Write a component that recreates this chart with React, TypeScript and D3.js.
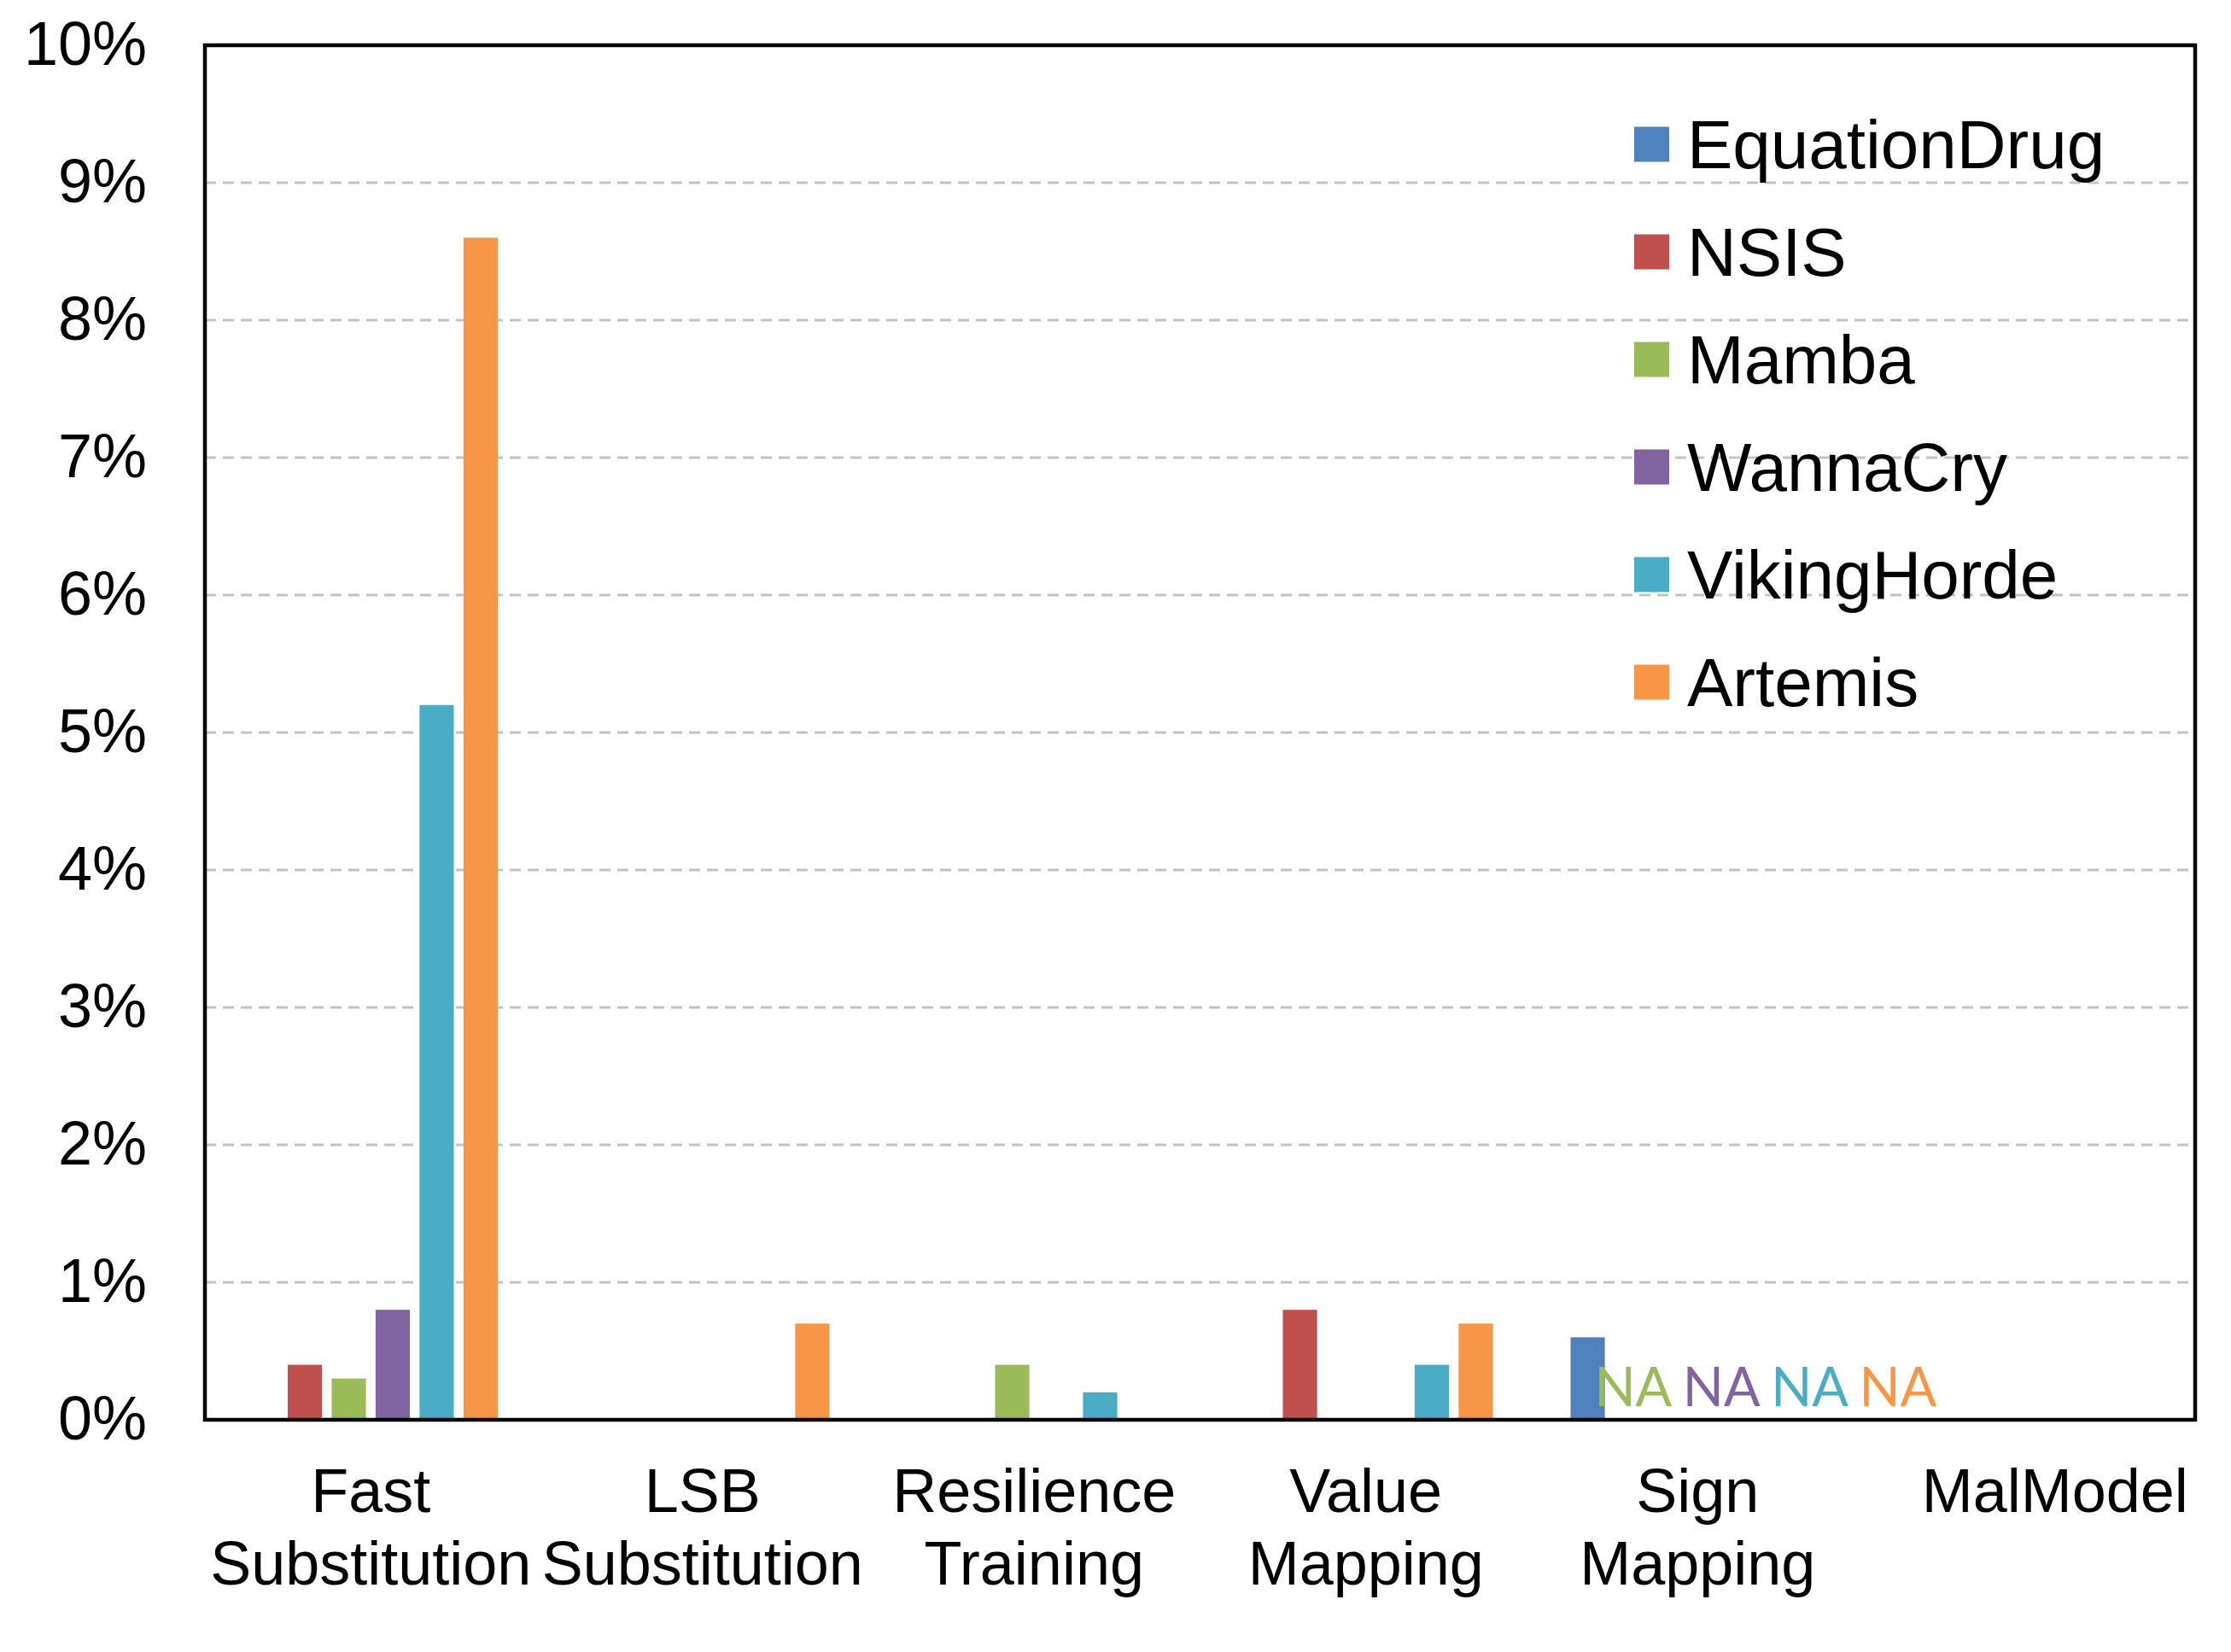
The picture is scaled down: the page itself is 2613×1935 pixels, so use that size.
import React, { useRef, useEffect } from 'react';
import * as d3 from 'd3';

// categories on the x axis (each entry = label lines)
const categories = ['Fast Substitution', 'LSB Substitution', 'Resilience Training', 'Value Mapping', 'Sign Mapping', 'MalModel'];
const categoryLines = [['Fast', 'Substitution'], ['LSB', 'Substitution'], ['Resilience', 'Training'], ['Value', 'Mapping'], ['Sign', 'Mapping'], ['MalModel']];

const seriesNames = ['EquationDrug', 'NSIS', 'Mamba', 'WannaCry', 'VikingHorde', 'Artemis'];
const seriesColors = ['#4F81BD', '#C0504D', '#9BBB59', '#8064A2', '#4BACC6', '#F79646'];

// values in %, null = not available
const equationDrug = [0, 0, 0, 0, 0.6, 0];
const nsis = [0.4, 0, 0, 0.8, 0, 0];
const mamba = [0.3, 0, 0.4, 0, null, 0];
const wannaCry = [0.8, 0, 0, 0, null, 0];
const vikingHorde = [5.2, 0, 0.2, 0.4, null, 0];
const artemis = [8.6, 0.7, 0, 0.7, null, 0];

const seriesValues = [equationDrug, nsis, mamba, wannaCry, vikingHorde, artemis];

const yTicks = [0, 1, 2, 3, 4, 5, 6, 7, 8, 9, 10];

const W = 2613;
const H = 1935;

const App: React.FC = () => {
    const svgRef = useRef<SVGSVGElement | null>(null);

    useEffect(() => {
        if (!svgRef.current) return;
        const svg = d3.select(svgRef.current);
        svg.selectAll('*').remove();

        const margin = { top: 53, right: 42, bottom: 272, left: 240 };
        const left = margin.left;
        const right = W - margin.right;
        const top = margin.top;
        const bottom = H - margin.bottom;

        const x0 = d3.scaleBand<string>().domain(categories).range([left, right]).padding(0);
        const gw = x0.bandwidth();
        const inner = gw * 0.795;
        const x1 = d3.scaleBand<string>()
            .domain(seriesNames)
            .range([(gw - inner) / 2, (gw + inner) / 2])
            .paddingInner(0.22)
            .paddingOuter(0.11);
        const y = d3.scaleLinear().domain([0, 10]).range([bottom, top]);

        const font = '"Liberation Sans", Arial, sans-serif';

        // grid
        svg.append('g')
            .selectAll('line')
            .data(yTicks.filter(t => t > 0 && t < 10))
            .enter()
            .append('line')
            .attr('x1', left)
            .attr('x2', right)
            .attr('y1', d => y(d))
            .attr('y2', d => y(d))
            .attr('stroke', '#c3c3c3')
            .attr('stroke-width', 3)
            .attr('stroke-dasharray', '13 8');

        // bars
        seriesNames.forEach((name, si) => {
            svg.append('g')
                .selectAll('rect')
                .data(seriesValues[si].map((v, ci) => ({ v, c: categories[ci] })).filter(d => d.v != null && d.v > 0))
                .enter()
                .append('rect')
                .attr('x', d => (x0(d.c) ?? 0) + (x1(name) ?? 0))
                .attr('y', d => y(d.v as number))
                .attr('width', x1.bandwidth())
                .attr('height', d => bottom - y(d.v as number))
                .attr('fill', seriesColors[si]);
        });

        // NA labels
        const naItems: { c: string; si: number }[] = [];
        seriesValues.forEach((vals, si) => {
            vals.forEach((v, ci) => {
                if (v == null) naItems.push({ c: categories[ci], si });
            });
        });
        svg.append('g')
            .selectAll('text')
            .data(naItems)
            .enter()
            .append('text')
            .attr('x', (d, i) => (x0(d.c) ?? 0) + gw * (0.306 + 0.266 * i))
            .attr('y', bottom - 16)
            .attr('text-anchor', 'middle')
            .attr('font-family', 'Lato, "Open Sans", sans-serif')
            .attr('font-size', 63)
            .attr('fill', d => seriesColors[d.si])
            .text('NA');

        // frame
        svg.append('rect')
            .attr('x', left)
            .attr('y', top)
            .attr('width', right - left)
            .attr('height', bottom - top)
            .attr('fill', 'none')
            .attr('stroke', '#000')
            .attr('stroke-width', 4.5);

        // y labels
        svg.append('g')
            .selectAll('text')
            .data(yTicks)
            .enter()
            .append('text')
            .attr('x', 172)
            .attr('y', d => y(d))
            .attr('dy', '0.32em')
            .attr('text-anchor', 'end')
            .attr('font-family', font)
            .attr('font-size', 72)
            .attr('fill', '#000')
            .text(d => d3.format('.0%')(d / 100));

        // x labels (the last one sits a little right of its band, as in the source)
        const labelX = (d: string, i: number) => (x0(d) ?? 0) + gw / 2 + (i === categories.length - 1 ? 30 : 0);
        const xl = svg.append('g')
            .selectAll('text')
            .data(categories)
            .enter()
            .append('text')
            .attr('x', (d, i) => labelX(d, i))
            .attr('y', bottom + 108)
            .attr('text-anchor', 'middle')
            .attr('font-family', font)
            .attr('font-size', 72)
            .attr('fill', '#000');
        xl.each(function (d, i) {
            const t = d3.select(this);
            categoryLines[i].forEach((line, li) => {
                t.append('tspan')
                    .attr('x', labelX(d, i))
                    .attr('dy', li === 0 ? 0 : 85)
                    .text(line);
            });
        });

        // legend
        const lg = svg.append('g');
        seriesNames.forEach((name, i) => {
            const cy = 169 + i * 126;
            lg.append('rect')
                .attr('x', 1914)
                .attr('y', cy - 20.5)
                .attr('width', 41)
                .attr('height', 41)
                .attr('fill', seriesColors[i]);
            lg.append('text')
                .attr('x', 1976)
                .attr('y', cy + 28)
                .attr('font-family', font)
                .attr('font-size', 80)
                .attr('fill', '#000')
                .text(name);
        });
    }, []);

    return (
        <svg
            ref={svgRef}
            width={W}
            height={H}
            style={{ position: 'absolute', left: 0, top: 0, background: '#fff' }}
        />
    );
};

export default App;
